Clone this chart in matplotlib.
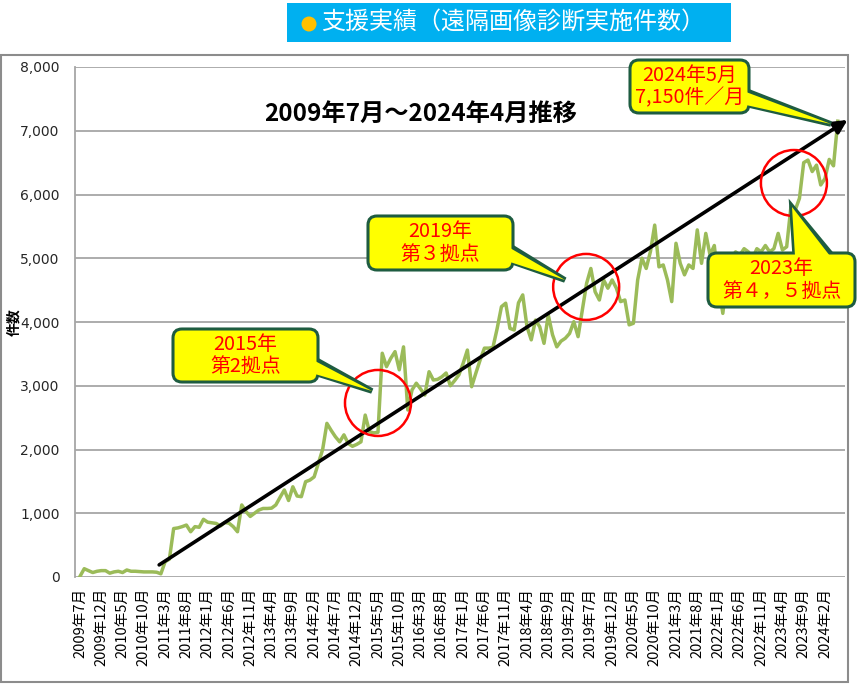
import matplotlib
matplotlib.use("Agg")
import matplotlib.pyplot as plt
import numpy as np
from matplotlib.patches import Rectangle, FancyBboxPatch, Polygon, Ellipse
from matplotlib.transforms import Affine2D
from matplotlib.ticker import FuncFormatter

CJK = ["Noto Sans CJK JP", "DejaVu Sans"]
plt.rcParams["font.family"] = CJK

# ---------------- data ----------------
values = [
    # 2009 Jul-Dec
    10, 130, 100, 70, 90, 100,
    # 2010
    100, 60, 80, 90, 70, 110, 90, 90, 85, 80, 80, 80,
    # 2011
    75, 50, 240, 280, 760, 770, 790, 815, 710, 790, 780, 905,
    # 2012
    860, 850, 840, 800, 855, 845, 790, 710, 1130, 1025, 950, 1000,
    # 2013
    1050, 1075, 1075, 1080, 1130, 1250, 1365, 1200, 1415, 1270, 1260, 1495,
    # 2014
    1520, 1570, 1785, 2000, 2410, 2300, 2200, 2120, 2230, 2095, 2050, 2080,
    # 2015
    2120, 2540, 2280, 2260, 2270, 3510, 3300, 3430, 3535, 3250, 3610, 2620,
    # 2016
    2935, 3040, 2950, 2855, 3220, 3090, 3100, 3140, 3200, 3000, 3080, 3170,
    # 2017
    3350, 3560, 2985, 3200, 3405, 3590, 3590, 3600, 3900, 4240, 4295, 3900,
    # 2018
    3875, 4300, 4425, 3925, 3720, 4030, 3925, 3665, 4110, 3800, 3610, 3700,
    # 2019
    3745, 3820, 4005, 3770, 4190, 4605, 4840, 4475, 4345, 4660, 4530, 4660,
    # 2020
    4530, 4320, 4345, 3955, 3980, 4660, 5000, 4840, 5105, 5520, 4865, 4895,
    # 2021
    4660, 4320, 5235, 4920, 4740, 4895, 4840, 5445, 4920, 5390, 5050, 5200,
    # 2022
    4600, 4135, 4700, 5000, 5100, 5050, 5150, 5100, 5000, 5150, 5100, 5200,
    # 2023
    5100, 5150, 5390, 5130, 5180, 5810, 5755, 5940, 6500, 6540, 6360, 6460,
    # 2024 Jan-May
    6150, 6250, 6550, 6450, 7150,
]

tick_labels = [
    "2009年7月", "2009年12月", "2010年5月", "2010年10月", "2011年3月", "2011年8月",
    "2012年1月", "2012年6月", "2012年11月", "2013年4月", "2013年9月", "2014年2月",
    "2014年7月", "2014年12月", "2015年5月", "2015年10月", "2016年3月", "2016年8月",
    "2017年1月", "2017年6月", "2017年11月", "2018年4月", "2018年9月", "2019年2月",
    "2019年7月", "2019年12月", "2020年5月", "2020年10月", "2021年3月", "2021年8月",
    "2022年1月", "2022年6月", "2022年11月", "2023年4月", "2023年9月", "2024年2月",
]
tick_step = 5

# trend arrow (month index, count)
trend_x = [18.6, 180.3]
trend_y = [190, 7170]

# highlighted periods (month index, count)
circle_x = [70.0, 118.9, 167.7]
circle_y = [2730, 4550, 6180]

# ---------------- figure ----------------
W, H = 861, 684
fig = plt.figure(figsize=(W / 100, H / 100), dpi=100)
fig.patch.set_facecolor("white")
px = Affine2D().scale(1 / W, -1 / H).translate(0, 1) + fig.transFigure

AX_L, AX_R, AX_T, AX_B = 75, 845, 67, 577
ax = fig.add_axes([AX_L / W, 1 - AX_B / H, (AX_R - AX_L) / W, (AX_B - AX_T) / H])

XMIN, XMAX = -1.17, 179.7
YMAX = 8000
x = np.arange(len(values))
ax.plot(x, values, color="#9BBB59", lw=2.5, solid_joinstyle="round", zorder=3)
ax.set_xlim(XMIN, XMAX)
ax.set_ylim(0, YMAX)
ax.set_yticks(range(0, YMAX + 1, 1000))
ax.yaxis.set_major_formatter(FuncFormatter(lambda v, p: f"{int(v):,}"))
for lab in ax.get_yticklabels():
    lab.set_fontfamily("DejaVu Sans")
ax.tick_params(axis="y", length=0, pad=11, labelsize=10, labelcolor="#262626")
ax.set_xticks(np.arange(0, len(tick_labels) * tick_step, tick_step))
ax.set_xticklabels(tick_labels, rotation=90, fontsize=10.5)
ax.tick_params(axis="x", length=0, pad=8)
ax.grid(axis="y", color="#A6A6A6", lw=1.3, zorder=0)
for s in ["top", "right", "bottom"]:
    ax.spines[s].set_visible(False)
ax.spines["left"].set_color("#A6A6A6")
ax.spines["left"].set_linewidth(1.3)

# trend arrow
ax.annotate("", xy=(trend_x[1], trend_y[1]), xytext=(trend_x[0], trend_y[0]),
            arrowprops=dict(arrowstyle="-|>", color="black", lw=2.6, mutation_scale=20,
                            shrinkA=0, shrinkB=0),
            annotation_clip=False, zorder=5)

# red circles (radius in pixels)
R = 33
px_per_month = (AX_R - AX_L) / (XMAX - XMIN)
px_per_unit = (AX_B - AX_T) / YMAX
for cx, cy in zip(circle_x, circle_y):
    ax.add_patch(Ellipse((cx, cy), 2 * R / px_per_month, 2 * R / px_per_unit,
                         fill=False, edgecolor="#FF0000", lw=1.8, zorder=6, clip_on=False))

fig.text(14 / W, 1 - 322 / H, "件数", rotation=90, ha="center", va="center",
         fontsize=10, fontweight="bold")

# outer chart border
fig.patches.append(Rectangle((1, 55), 847, 627, transform=px, fill=False,
                             edgecolor="#8C8C8C", lw=1.5, zorder=0))

# header
fig.patches.append(Rectangle((287, 3), 444, 39, transform=px, facecolor="#00B0F0",
                             edgecolor="none", zorder=1))
fig.patches.append(Ellipse((309, 24), 15, 15, transform=px, facecolor="#FFC000",
                           edgecolor="none", zorder=2))
fig.text(321 / W, 1 - 22 / H, "支援実績（遠隔画像診断実施件数）", ha="left", va="center",
         fontsize=17.3, color="white", zorder=3)

# title
fig.text(421 / W, 1 - 114 / H, "2009年7月～2024年4月推移", ha="center", va="center",
         fontsize=17.5, fontweight="bold", color="black", zorder=3)

# callouts (pixel positions)
GREEN = "#1E5C40"
YEL = "#FFFF00"


def callout(x0, y0, x1, y1, base, tip, text, inset):
    (bx1, by1), (bx2, by2) = base
    dx, dy = inset
    fig.patches.append(Polygon([(bx1, by1), (bx2, by2), tip], closed=True, transform=px,
                               facecolor=YEL, edgecolor=GREEN, lw=4.0, zorder=7,
                               joinstyle="miter"))
    fig.patches.append(FancyBboxPatch((x0, y0), x1 - x0, y1 - y0,
                                      boxstyle="round,pad=0,rounding_size=9", transform=px,
                                      facecolor=YEL, edgecolor=GREEN, lw=2.2, zorder=8))
    fig.patches.append(Polygon([(bx1 + dx, by1 + dy), (bx2 + dx, by2 + dy), tip], closed=True,
                               transform=px, facecolor=YEL, edgecolor="none", zorder=9))
    fig.text((x0 + x1) / 2 / W, 1 - (y0 + y1) / 2 / H, text, ha="center", va="center",
             fontsize=14.3, color="#FF0000", linespacing=1.1, zorder=10)


callout(173, 329, 318, 382, [(318, 361), (318, 374)], (372, 391), "2015年\n第2拠点", (-3, 0))
callout(368, 216, 513, 270, [(513, 248), (513, 262)], (565, 280), "2019年\n第３拠点", (-3, 0))
callout(630, 60, 749, 113, [(749, 92), (749, 105)], (831, 124), "2024年5月\n7,150件／月", (-3, 0))
callout(708, 253, 855, 307, [(795, 253), (830, 253)], (792, 207), "2023年\n第４，５拠点", (0, 3))

fig.savefig("out.png", dpi=100, facecolor="white")
